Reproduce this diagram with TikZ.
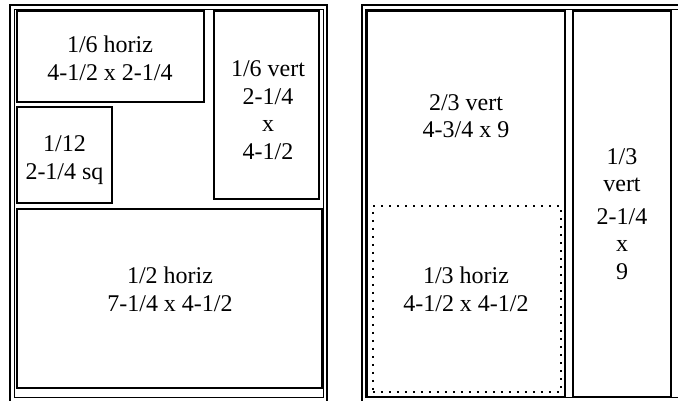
\documentclass[tikz,border=0pt]{standalone}
\usepackage{fontspec}
\setmainfont{Liberation Serif}
\begin{document}
\begin{tikzpicture}[x=1pt,y=-1pt,
  frameline/.style={line width=2pt,draw=black},
  innerline/.style={line width=1pt,draw=black},
  adbox/.style={draw=black,line width=2pt,anchor=north west,inner sep=0pt,outer sep=0pt},
  dotbox/.style={draw=black,line width=1.8pt,dash pattern=on 1.8pt off 6.2pt,anchor=north west,inner sep=0pt},
  lbl/.style={align=center,font=\fontsize{24}{27.6}\selectfont,inner sep=0pt}]
\useasboundingbox (0,0) rectangle (678,400);
\clip (0,0) rectangle (678,400);
% left page
\draw[frameline] (10,5) rectangle (327,403);
\draw[innerline] (14,9.5) rectangle (323,397);
\node[adbox,minimum width=187pt,minimum height=91pt] (h16) at (17,11) {};
\node[adbox,minimum width=95pt,minimum height=96pt] (q12) at (17,107) {};
\node[adbox,minimum width=105pt,minimum height=188pt] (v16) at (214,11) {};
\node[adbox,minimum width=305pt,minimum height=179pt] (h12) at (17,209) {};
\node[lbl] (th16) at (110,58) {1/6 horiz\\4-1/2 x 2-1/4};
\node[lbl] (tq12) at (64.5,160) {1/12\\2-1/4 sq};
\node[lbl] (tv16) at (268,110) {1/6 vert\\2-1/4\\x\\4-1/2};
\node[lbl] (th12) at (170,289) {1/2 horiz\\7-1/4 x 4-1/2};
% right page
\draw[frameline] (362,5) rectangle (685,403);
\draw[innerline] (365.5,9.5) rectangle (681,397);
\node[adbox,minimum width=198pt,minimum height=386pt] (v23) at (367,11) {};
\node[adbox,minimum width=98pt,minimum height=386pt] (v13) at (573,11) {};
\node[dotbox,minimum width=188pt,minimum height=186pt] (h13) at (372,205) {};
\node[lbl] (tv23) at (466,116) {2/3 vert\\4-3/4 x 9};
\node[lbl] (th13) at (466,289) {1/3 horiz\\4-1/2 x 4-1/2};
\node[lbl] (tv13a) at (622,170) {1/3\\vert};
\node[lbl] (tv13b) at (622,244) {2-1/4\\x\\9};
\end{tikzpicture}
\end{document}
